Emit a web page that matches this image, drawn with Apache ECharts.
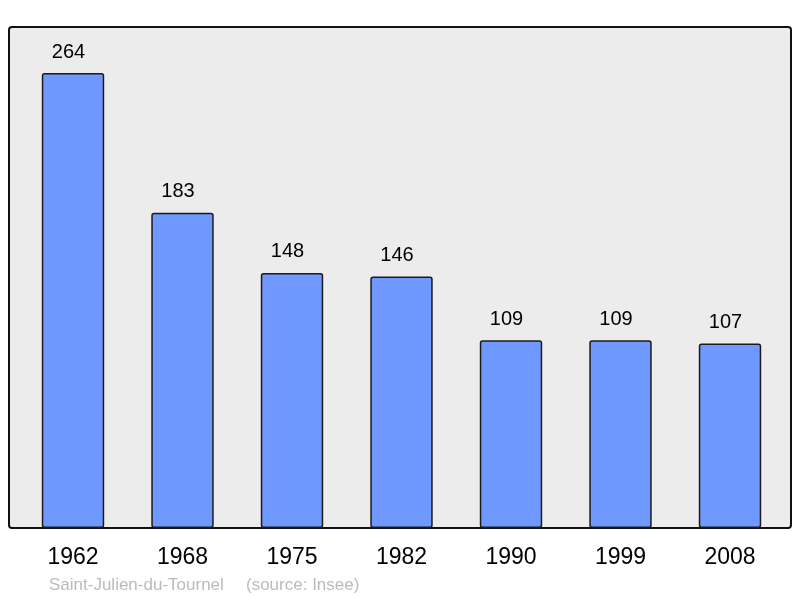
<!DOCTYPE html>
<html>
<head>
<meta charset="utf-8">
<script src="https://cdn.jsdelivr.net/npm/echarts@6/dist/echarts.min.js"></script>
<style>
  html, body { margin: 0; padding: 0; background: #fff; }
  #chart { width: 800px; height: 598px; }
</style>
</head>
<body>
<div id="chart"></div>
<script>
// population by census year
var years = ['1962', '1968', '1975', '1982', '1990', '1999', '2008']
var population = [264, 183, 148, 146, 109, 109, 107]
var townName = 'Saint-Julien-du-Tournel'
var sourceText = '(source: Insee)'

var chart = echarts.init(document.getElementById('chart'))

var option = {
  animation: false,
  backgroundColor: '#ffffff',
  textStyle: { fontFamily: 'Liberation Sans, Arial, sans-serif' },
  grid: {
    left: 18.25,
    right: 15.25,
    top: 11,
    bottom: 70,
    containLabel: false
  },
  graphic: [
    {
      type: 'rect',
      z: -10,
      shape: { x: 9, y: 27, width: 782, height: 501, r: 3 },
      style: { fill: '#ececec', stroke: '#111111', lineWidth: 2 }
    },
    {
      type: 'text',
      left: 49,
      top: 577,
      style: {
        text: townName,
        fill: '#bbbbbb',
        font: '17px Liberation Sans, Arial, sans-serif'
      }
    },
    {
      type: 'text',
      left: 246,
      top: 577,
      style: {
        text: sourceText,
        fill: '#bbbbbb',
        font: '17px Liberation Sans, Arial, sans-serif'
      }
    }
  ],
  xAxis: {
    type: 'category',
    data: years,
    axisLine: { show: false },
    axisTick: { show: false },
    axisLabel: {
      color: '#000',
      fontSize: 23,
      margin: 18
    }
  },
  yAxis: {
    type: 'value',
    min: 0,
    max: 300,
    show: false,
    splitLine: { show: false }
  },
  series: [
    {
      type: 'bar',
      data: population,
      barWidth: '57%',
      itemStyle: {
        color: '#7099ff',
        borderColor: '#1a1a1a',
        borderWidth: 1.5,
        borderRadius: 2
      },
      label: {
        show: true,
        position: 'top',
        distance: 11,
        offset: [-4.5, 0],
        color: '#000',
        fontSize: 20
      }
    }
  ]
}

chart.setOption(option)
</script>
</body>
</html>
